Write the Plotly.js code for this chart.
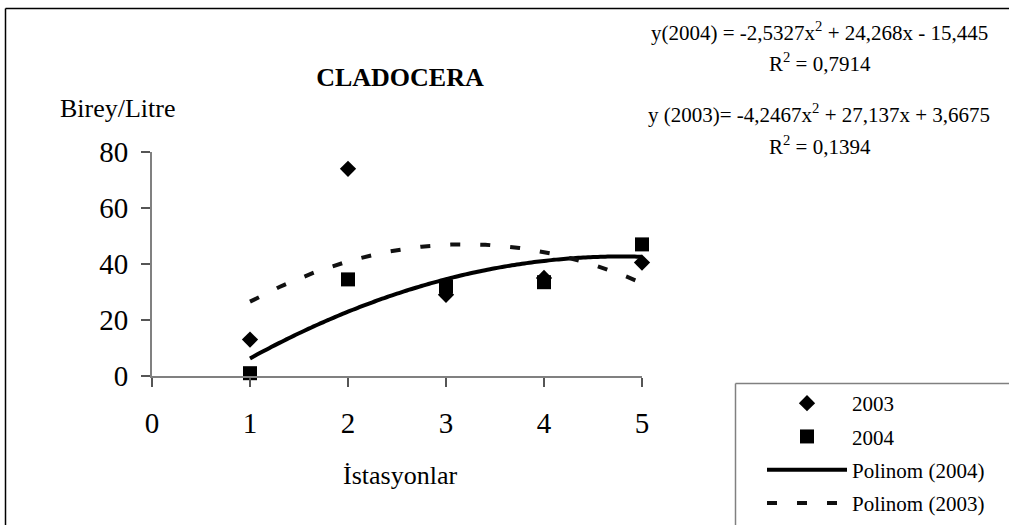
<!DOCTYPE html>
<html>
<head>
<meta charset="utf-8">
<script src="https://cdn.plot.ly/plotly-3.0.1.min.js"></script>
<style>html,body{margin:0;padding:0;background:#fff;}#chart{width:1009px;height:525px;}</style>
</head>
<body>
<div id="chart"></div>
<script>
// Data
const stations = [1, 2, 3, 4, 5];
const values2003 = [13, 74, 29, 35, 40.5];
const values2004 = [1, 34.5, 32, 33.5, 47];
// Trendline coefficients as printed on the chart [a, b, c] for a*x^2 + b*x + c
const poly2004 = [-2.5327, 24.268, -15.445];
const poly2003 = [-4.2467, 27.137, 3.6675];
const xTicks = [0, 1, 2, 3, 4, 5];
const yTicks = [0, 20, 40, 60, 80];
const seriesNames = ['2003', '2004', 'Polinom (2004)', 'Polinom (2003)'];

function curve(c) {
  const xs = [], ys = [];
  for (let i = 0; i <= 80; i++) {
    const x = 1 + i * 0.05;
    xs.push(x);
    ys.push(c[0] * x * x + c[1] * x + c[2]);
  }
  return {xs, ys};
}
const c04 = curve(poly2004), c03 = curve(poly2003);

// pixel -> paper helpers for decorative frame
const L = 152, T = 152, W = 490, H = 224;
const px = v => (v - L) / W;
const py = v => (T + H - v) / H;

const FONT = 'Liberation Serif, Times New Roman, serif';

const traces = [
  {x: stations, y: values2003, mode: 'markers', type: 'scatter', name: seriesNames[0],
   marker: {symbol: 'diamond', size: 12.5, color: '#000'}, cliponaxis: false, legendgroup: 'a'},
  {x: stations, y: values2004, mode: 'markers', type: 'scatter', name: seriesNames[1],
   marker: {symbol: 'square', size: 14, color: '#000'}, cliponaxis: false, legendgroup: 'b'},
  {x: c04.xs, y: c04.ys, mode: 'lines', type: 'scatter', name: seriesNames[2],
   line: {color: '#000', width: 4, shape: 'spline'}, legendgroup: 'c'},
  {x: c03.xs, y: c03.ys, mode: 'lines', type: 'scatter', name: seriesNames[3],
   line: {color: '#111', width: 4, dash: '10px,20px'}, legendgroup: 'd'}
];

const layout = {
  width: 1009, height: 525,
  margin: {l: L, r: 1009 - L - W, t: T, b: 525 - T - H, pad: 0, autoexpand: false},
  paper_bgcolor: '#fff', plot_bgcolor: '#fff',
  font: {family: FONT, color: '#000'},
  title: {text: '<b>CLADOCERA</b>', font: {family: FONT, size: 26, color: '#000'},
          x: 400 / 1009, xanchor: 'center', y: 1 - 77 / 525, yanchor: 'middle'},
  xaxis: {range: [0, 5], tickvals: xTicks, ticktext: xTicks.map(String), showgrid: false, zeroline: false,
          showline: true, linecolor: '#808080', linewidth: 2, ticks: 'outside', ticklen: 9, tickwidth: 1.5,
          tickcolor: '#555', tickfont: {family: FONT, size: 29, color: '#000'}, ticklabelstandoff: 11},
  yaxis: {range: [0, 80], tickvals: yTicks, ticktext: yTicks.map(String), showgrid: false, zeroline: false,
          showline: true, linecolor: '#808080', linewidth: 2, ticks: 'outside', ticklen: 9, tickwidth: 1.5,
          tickcolor: '#555', tickfont: {family: FONT, size: 29, color: '#000'}, ticklabelstandoff: 7},
  showlegend: true,
  legend: {x: px(762), y: py(383), xanchor: 'left', yanchor: 'top', bgcolor: 'rgba(0,0,0,0)',
           borderwidth: 0, font: {family: FONT, size: 21, color: '#000'}, itemwidth: 80,
           tracegroupgap: 3, traceorder: 'grouped'},
  shapes: [
    {type: 'line', xref: 'paper', yref: 'paper', x0: px(5.5), x1: px(1015), y0: py(8.5), y1: py(8.5),
     line: {color: '#000', width: 1.5}},
    {type: 'line', xref: 'paper', yref: 'paper', x0: px(5.5), x1: px(5.5), y0: py(8.5), y1: py(530),
     line: {color: '#000', width: 1.5}},
    {type: 'line', xref: 'paper', yref: 'paper', x0: px(735.5), x1: px(1015), y0: py(383.5), y1: py(383.5),
     line: {color: '#808080', width: 1.5}},
    {type: 'line', xref: 'paper', yref: 'paper', x0: px(735.5), x1: px(735.5), y0: py(383.5), y1: py(530),
     line: {color: '#808080', width: 1.5}}
  ],
  annotations: [
    {text: 'Birey/Litre', xref: 'paper', yref: 'paper', x: px(118), y: py(108), showarrow: false,
     xanchor: 'center', yanchor: 'middle', font: {family: FONT, size: 26}},
    {text: 'İstasyonlar', xref: 'paper', yref: 'paper', x: px(400), y: py(475), showarrow: false,
     xanchor: 'center', yanchor: 'middle', font: {family: FONT, size: 26}},
    {text: 'y(2004) = -2,5327x<sup>2</sup> + 24,268x - 15,445', xref: 'paper', yref: 'paper',
     x: px(819), y: py(31), showarrow: false, xanchor: 'center', yanchor: 'middle', font: {family: FONT, size: 21}},
    {text: 'R<sup>2</sup> = 0,7914', xref: 'paper', yref: 'paper',
     x: px(820), y: py(62), showarrow: false, xanchor: 'center', yanchor: 'middle', font: {family: FONT, size: 21}},
    {text: 'y (2003)= -4,2467x<sup>2</sup> + 27,137x + 3,6675', xref: 'paper', yref: 'paper',
     x: px(819), y: py(114), showarrow: false, xanchor: 'center', yanchor: 'middle', font: {family: FONT, size: 21}},
    {text: 'R<sup>2</sup> = 0,1394', xref: 'paper', yref: 'paper',
     x: px(820), y: py(145), showarrow: false, xanchor: 'center', yanchor: 'middle', font: {family: FONT, size: 21}}
  ]
};

Plotly.newPlot('chart', traces, layout, {displayModeBar: false, staticPlot: true});
</script>
</body>
</html>
